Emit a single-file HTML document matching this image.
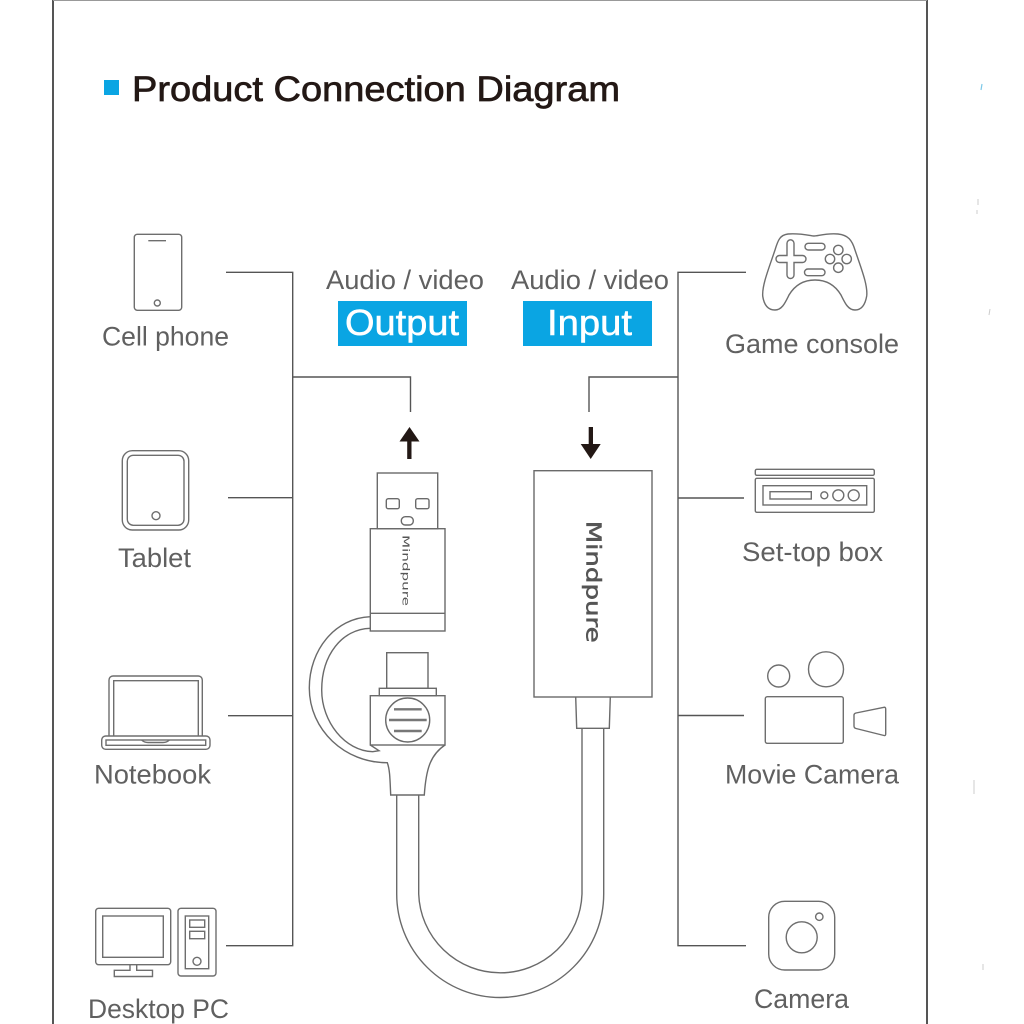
<!DOCTYPE html>
<html>
<head>
<meta charset="utf-8">
<style>
html,body{margin:0;padding:0;background:#fff;width:1024px;height:1024px;overflow:hidden}
svg{display:block}
text{font-family:"Liberation Sans",sans-serif}
.l{font-size:27px;fill:#606060}
.d{fill:none;stroke:#6e6e6e;stroke-width:1.4}
.c{fill:none;stroke:#6a6a6a;stroke-width:1.4}
.w{stroke:#555;stroke-width:1.4;fill:none}
.m{font-family:"DejaVu Sans",sans-serif}
</style>
</head>
<body>
<svg width="1024" height="1024" viewBox="0 0 1024 1024" xmlns="http://www.w3.org/2000/svg">
<rect width="1024" height="1024" fill="#fff"/>
<!-- frame -->
<path d="M53 0V1024M927 0V1024" stroke="#555" stroke-width="2" fill="none"/>
<path d="M53 0.5H927" stroke="#999" stroke-width="1" fill="none"/>
<!-- specks -->
<path d="M982 84l-1 6" stroke="#7cc8e8" stroke-width="1.2"/>
<path d="M978 199v6M977 210v4M990 309l-1 6M974 780v14M983 964v6" stroke="#ccc" stroke-width="1"/>
<!-- title -->
<rect x="104" y="80" width="15" height="15" fill="#0aa5e3"/>
<text x="132" y="101" font-size="35" fill="#231815" stroke="#231815" stroke-width="0.7" textLength="488" lengthAdjust="spacingAndGlyphs">Product Connection Diagram</text>
<!-- header labels -->
<text class="l" x="326" y="289" textLength="158" lengthAdjust="spacingAndGlyphs">Audio / video</text>
<text class="l" x="511" y="289" textLength="158" lengthAdjust="spacingAndGlyphs">Audio / video</text>
<rect x="338" y="301" width="129" height="45" fill="#0aa5e3"/>
<rect x="523" y="301" width="129" height="45" fill="#0aa5e3"/>
<text x="345" y="335" font-size="36" fill="#fff" stroke="#fff" stroke-width="0.5" textLength="114" lengthAdjust="spacingAndGlyphs">Output</text>
<text x="547" y="335" font-size="36" fill="#fff" stroke="#fff" stroke-width="0.5" textLength="85" lengthAdjust="spacingAndGlyphs">Input</text>
<!-- wires -->
<path class="w" d="M226 272.3H292.7V945.7H226M228 497.7H292.7M228 715.7H292.7M292.7 377H410.5V412"/>
<path class="w" d="M746 272.3H678V945.7H746M744 498H678M744 715.5H678M678 377H589V412"/>
<!-- arrows -->
<path d="M409.5 427L419.5 441.5H411.5V459H407.2V441.5H399.5Z" fill="#231815"/>
<path d="M590.7 459L600.7 444H593V427H588.7V444H580.7Z" fill="#231815"/>
<!-- left device -->
<g class="c">
<rect x="377.3" y="473" width="60.4" height="55.7"/>
<rect x="386.3" y="498.7" width="13" height="10" rx="2"/>
<rect x="415.7" y="498.7" width="13.3" height="10" rx="2"/>
<rect x="401.3" y="516.7" width="12" height="8.3" rx="4"/>
<rect x="370.3" y="528.7" width="74.7" height="102.3"/>
<path d="M370.3 613.3H445"/>
<path d="M370.3 616.7C335 618 309.3 650 309.3 688C309.3 730 345 763 387.3 762.7C390 770 390 780 390.7 795H424.3C426 770 430 755 445 745"/>
<path d="M370.3 628.3C342 629 321.7 655 321.7 690C321.7 722 345 751 372.7 751.7L379 750.7L370.3 745"/>
<rect x="386.7" y="652.7" width="41.3" height="35.6"/>
<rect x="379.3" y="688.3" width="57" height="7.4"/>
<rect x="370.3" y="695.7" width="74.7" height="49.3"/>
<circle cx="407.7" cy="720" r="22"/>
</g>
<path d="M394 709.3H421.7M389 720H426.7M394 731H421.7" stroke="#777" stroke-width="2.4" fill="none"/>
<text class="m" transform="translate(402.7 535) rotate(90)" font-size="9.5" fill="#555" textLength="71" lengthAdjust="spacingAndGlyphs">Mindpure</text>
<!-- right device -->
<g class="c">
<rect x="534" y="470.7" width="118" height="226.3"/>
<path d="M575.7 697L576.7 728.3H609.3L610.3 697"/>
<path d="M396.7 795V894A103.5 103.5 0 0 0 603.7 894V728.3"/>
<path d="M418.7 795V894A81.7 81.7 0 0 0 582 894V728.3"/>
</g>
<text class="m" transform="translate(586.7 520.7) rotate(90)" font-size="20" fill="#555" stroke="#555" stroke-width="0.5" textLength="122" lengthAdjust="spacingAndGlyphs">Mindpure</text>
<!-- phone -->
<g class="d">
<rect x="134.3" y="234.3" width="47.4" height="76" rx="3"/>
<path d="M148.3 240.7H166"/>
<circle cx="157.3" cy="303" r="3"/>
<!-- tablet -->
<rect x="122.3" y="450.7" width="66.4" height="79.3" rx="10"/>
<rect x="127.3" y="455.3" width="56.7" height="70" rx="6"/>
<circle cx="156" cy="515.7" r="4"/>
<!-- notebook -->
<path d="M109 736V680a4 4 0 0 1 4-4H198.3a4 4 0 0 1 4 4V736"/>
<path d="M113.7 736V680.7H198.3V736"/>
<rect x="101.7" y="736" width="108.3" height="13.3" rx="4"/>
<rect x="106" y="740" width="99.7" height="5.3"/>
<path d="M141.7 740Q144 742.5 148 742.5H163Q167 742.5 169.3 740"/>
<!-- desktop -->
<rect x="95.7" y="908.3" width="75" height="56.4" rx="3"/>
<rect x="102.7" y="916" width="60.6" height="41.3"/>
<path d="M130 964.7V970.3H114.3V976.5H152.5V970.3H136.7V964.7"/>
<rect x="178" y="908.3" width="38" height="67.7" rx="3"/>
<rect x="185.3" y="916" width="23.4" height="52.7"/>
<rect x="189.7" y="920" width="15" height="7.3"/>
<rect x="189.7" y="931.3" width="15" height="7.4"/>
<circle cx="197" cy="961.3" r="4"/>
<!-- game console -->
<path d="M788 234C800 233 812 236 814 236C818 236 826 233 838 234C848 235 852 240 855 250C861 268 868 285 866.7 296C865 306 861 310 855 310C848 310 845 303 841 295C835 285 826 280 815 280C804 280 795 285 789 295C785 303 782 310 775 310C768 310 764 305 762.7 296C762 285 769 268 775 250C778 240 780 235 788 234Z"/>
<path d="M787 243.3a3.5 3.5 0 0 1 7 0V255.5H802.5a3.5 3.5 0 0 1 0 7H794V275a3.5 3.5 0 0 1 -7 0V262.5H779.5a3.5 3.5 0 0 1 0 -7H787Z"/>
<rect x="805" y="243.3" width="20" height="6.7" rx="3.3"/>
<rect x="804.5" y="269" width="20.5" height="6.7" rx="3.3"/>
<circle cx="838.3" cy="250" r="4.7"/>
<circle cx="838.3" cy="267.7" r="4.7"/>
<circle cx="830" cy="259" r="4.7"/>
<circle cx="846.7" cy="259" r="4.7"/>
<!-- set-top -->
<rect x="755.3" y="469.3" width="119" height="6" rx="1.5"/>
<rect x="755.3" y="478.3" width="119" height="34" rx="1.5"/>
<rect x="763" y="485.7" width="103.7" height="19.3"/>
<rect x="770" y="491.7" width="41.3" height="7.3"/>
<circle cx="824.3" cy="495.3" r="3.5"/>
<circle cx="838.3" cy="495.3" r="5.5"/>
<circle cx="853.7" cy="495.3" r="5.5"/>
<!-- movie camera -->
<circle cx="778.7" cy="676" r="11"/>
<circle cx="826" cy="669.3" r="17.5"/>
<rect x="765.3" y="696.7" width="78" height="46.6" rx="2"/>
<path d="M854 715Q854 713.5 856 713L884 707.3Q885.7 707 885.7 709V734Q885.7 736 884 735.5L856 728.5Q854 728 854 726Z"/>
<!-- camera -->
<rect x="768.7" y="901.3" width="66" height="68.7" rx="16"/>
<circle cx="801.7" cy="937.3" r="15.5"/>
<circle cx="819.3" cy="916.7" r="3.7"/>
</g>
<!-- labels -->
<text class="l" x="102" y="345.7" textLength="127" lengthAdjust="spacingAndGlyphs">Cell phone</text>
<text class="l" x="118" y="567" textLength="73" lengthAdjust="spacingAndGlyphs">Tablet</text>
<text class="l" x="94" y="783.3" textLength="117" lengthAdjust="spacingAndGlyphs">Notebook</text>
<text class="l" x="88" y="1018" textLength="141" lengthAdjust="spacingAndGlyphs">Desktop PC</text>
<text class="l" x="725" y="353" textLength="174" lengthAdjust="spacingAndGlyphs">Game console</text>
<text class="l" x="742" y="561" textLength="141" lengthAdjust="spacingAndGlyphs">Set-top box</text>
<text class="l" x="725" y="783.3" textLength="174" lengthAdjust="spacingAndGlyphs">Movie Camera</text>
<text class="l" x="754" y="1008" textLength="95" lengthAdjust="spacingAndGlyphs">Camera</text>
</svg>
</body>
</html>
